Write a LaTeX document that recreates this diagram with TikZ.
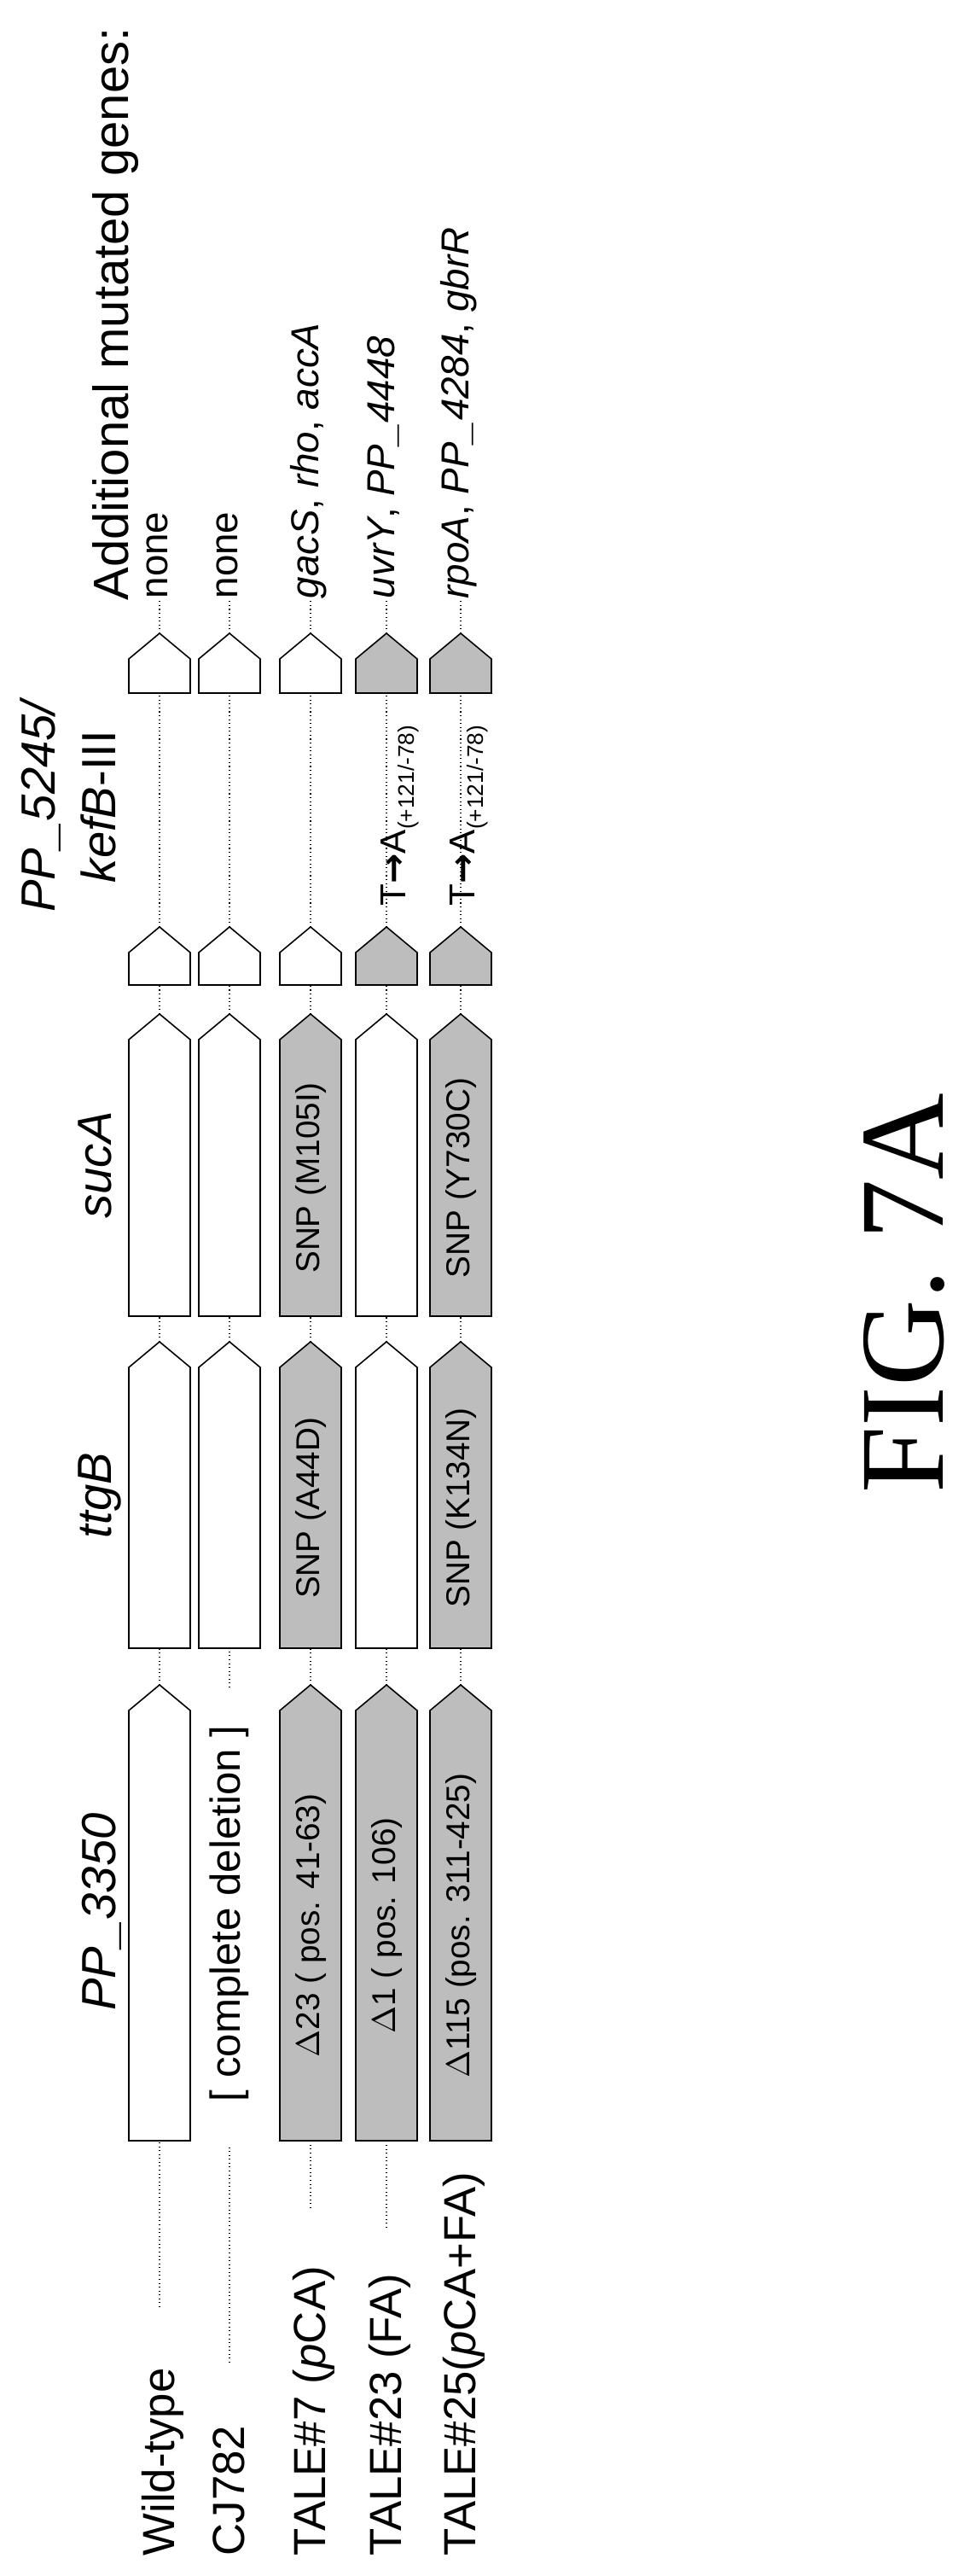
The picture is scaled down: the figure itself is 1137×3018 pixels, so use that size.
\documentclass[tikz,border=0pt]{standalone}
\usepackage{fontspec}
\setmainfont{Liberation Sans}
\newfontfamily\figfont{Liberation Serif}
\newfontfamily\arrowfont{DejaVu Sans}
\usepackage{tikz}
\definecolor{mutgray}{rgb}{0.74,0.74,0.74}
\tikzset{
  genebox/.style={draw=black,line width=0.45pt},
  link/.style={densely dotted,line width=0.3pt},
  boxtext/.style={inner sep=0pt,font=\fontsize{11}{13}\selectfont},
  rowlabel/.style={anchor=base west,inner sep=0pt,font=\fontsize{15}{18}\selectfont},
  genelabel/.style={anchor=base,inner sep=0pt,font=\fontsize{16}{20}\selectfont\itshape},
  extralabel/.style={anchor=base west,inner sep=0pt,font=\fontsize{13}{15}\selectfont}
}
% #1 name, #2 base, #3 tip, #4 row, #5 fill, #6 text
\newcommand{\drawgene}[6]{
  \draw[genebox,fill=#5] (#2,#4+36) -- (#3-30,#4+36) -- (#3,#4) -- (#3-30,#4-36) -- (#2,#4-36) -- cycle;
  \coordinate (#1b) at (#2,#4);
  \coordinate (#1t) at (#3,#4);
  \node[boxtext] (#1) at ({(#2+#3-30)/2},#4) {#6};
}
\newcommand{\snpA}{T{\arrowfont\bfseries →}A\raisebox{-0.45ex}{\fontsize{7.5}{9}\selectfont(+121/-78)}}

\begin{document}
\begin{tikzpicture}[x=0.01cm,y=0.01cm]
  \useasboundingbox (0,0) rectangle (1137,3018);
  \begin{scope}[rotate=90,transform shape]
    % headers
    \node[genelabel] (h1) at (778,-135) {PP\_3350};
    \node[genelabel] (h2) at (1266,-130) {ttgB};
    \node[genelabel] (h3) at (1653,-130) {sucA};
    \node[genelabel,align=center] (h4) at (2073,-135) {PP\_5245/\\kefB\upshape-III};
    \node[anchor=base west,inner sep=0pt,font=\fontsize{16.5}{20}\selectfont] (h5) at (2314,-150) {Additional mutated genes:};
    % row labels
    \node[rowlabel] (wt) at (23,-204) {Wild-type};
    \node[rowlabel] (cj) at (23,-286) {CJ782};
    \node[rowlabel] (t7) at (23,-381) {TALE\#7 (\textit{p}CA)};
    \node[rowlabel] (t23) at (23,-470) {TALE\#23 (FA)};
    \node[rowlabel] (t25) at (23,-557) {TALE\#25(\textit{p}CA+FA)};
    \coordinate (wts) at (315,-187);
    \coordinate (cjs) at (250,-269);
    \coordinate (t7s) at (431,-364);
    \coordinate (t23s) at (408,-453);
    % Wild-type
    \drawgene{a1}{510}{1044}{-187}{white}{}
    \drawgene{a2}{1087}{1446}{-187}{white}{}
    \drawgene{a3}{1476}{1830}{-187}{white}{}
    \drawgene{a4}{1864}{1932}{-187}{white}{}
    \drawgene{a5}{2206}{2276}{-187}{white}{}
    % CJ782
    \node[inner sep=0pt,font=\fontsize{14}{17}\selectfont] (cjdel) at (776,-269) {[ complete deletion ]};
    \coordinate (cjg1) at (504,-269);
    \coordinate (cjg2) at (1041,-269);
    \drawgene{b2}{1087}{1446}{-269}{white}{}
    \drawgene{b3}{1476}{1830}{-269}{white}{}
    \drawgene{b4}{1864}{1932}{-269}{white}{}
    \drawgene{b5}{2206}{2276}{-269}{white}{}
    % TALE#7
    \drawgene{c1}{510}{1044}{-364}{mutgray}{$\Delta$23 ( pos. 41-63)}
    \drawgene{c2}{1087}{1446}{-364}{mutgray}{SNP (A44D)}
    \drawgene{c3}{1476}{1830}{-364}{mutgray}{SNP (M105I)}
    \drawgene{c4}{1864}{1932}{-364}{white}{}
    \drawgene{c5}{2206}{2276}{-364}{white}{}
    % TALE#23
    \drawgene{d1}{510}{1044}{-453}{mutgray}{$\Delta$1 ( pos. 106)}
    \drawgene{d2}{1087}{1446}{-453}{white}{}
    \drawgene{d3}{1476}{1830}{-453}{white}{}
    \drawgene{d4}{1864}{1932}{-453}{mutgray}{}
    \drawgene{d5}{2206}{2276}{-453}{mutgray}{}
    % TALE#25
    \drawgene{e1}{510}{1044}{-540}{mutgray}{$\Delta$115 (pos. 311-425)}
    \drawgene{e2}{1087}{1446}{-540}{mutgray}{SNP (K134N)}
    \drawgene{e3}{1476}{1830}{-540}{mutgray}{SNP (Y730C)}
    \drawgene{e4}{1864}{1932}{-540}{mutgray}{}
    \drawgene{e5}{2206}{2276}{-540}{mutgray}{}
    % promoter SNPs
    \node[anchor=base west,inner sep=0pt,font=\fontsize{12}{14}\selectfont] (m4) at (1956,-475) {\snpA};
    \node[anchor=base west,inner sep=0pt,font=\fontsize{12}{14}\selectfont] (m5) at (1956,-556) {\snpA};
    % additional genes
    \node[extralabel] (x1) at (2316,-196) {none};
    \node[extralabel] (x2) at (2316,-278) {none};
    \node[extralabel] (x3) at (2316,-373) {\textit{gacS}, \textit{rho}, \textit{accA}};
    \node[extralabel] (x4) at (2316,-462) {\textit{uvrY}, \textit{PP\_4448}};
    \node[extralabel] (x5) at (2316,-549) {\textit{rpoA}, \textit{PP\_4284}, \textit{gbrR}};
    % connectors
    \draw[link] (wts) -- (a1b);
    \draw[link] (cjs) -- (cjg1);
    \draw[link] (cjg2) -- (b2b);
    \draw[link] (t7s) -- (c1b);
    \draw[link] (t23s) -- (d1b);
    \foreach \r in {a,c,d,e}{
      \draw[link] (\r1t) -- (\r2b);
    }
    \foreach \r in {a,b,c,d,e}{
      \draw[link] (\r2t) -- (\r3b);
      \draw[link] (\r3t) -- (\r4b);
      \draw[link] (\r4t) -- (\r5b);
    }
    \draw[link] (a5t) -- (a5t -| x1.west);
    \draw[link] (b5t) -- (b5t -| x2.west);
    \draw[link] (c5t) -- (c5t -| x3.west);
    \draw[link] (d5t) -- (d5t -| x4.west);
    \draw[link] (e5t) -- (e5t -| x5.west);
    % figure label
    \node[inner sep=0pt,font=\figfont\fontsize{40}{46}\selectfont] (fig) at (1503,-1060) {FIG. 7A};
  \end{scope}
\end{tikzpicture}
\end{document}
